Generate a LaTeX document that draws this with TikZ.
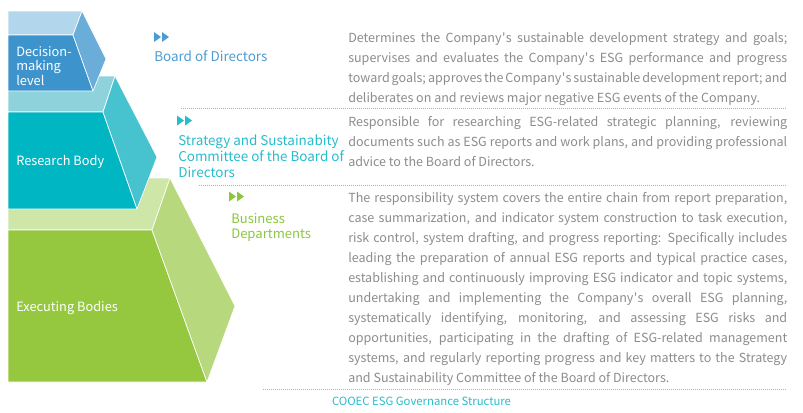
\documentclass[tikz,border=0pt]{standalone}
\usepackage{fontspec}
\setmainfont{Noto Sans CJK SC}[Ligatures=TeXOff]
\usetikzlibrary{positioning}
\definecolor{dectop}{HTML}{B2D6EC}
\definecolor{decfront}{HTML}{3D94CC}
\definecolor{decside}{HTML}{6BADD9}
\definecolor{restop}{HTML}{8ED3DC}
\definecolor{resfront}{HTML}{00B6C3}
\definecolor{resside}{HTML}{47C3CF}
\definecolor{exetop}{HTML}{CEE6A7}
\definecolor{exefront}{HTML}{96C83F}
\definecolor{exeside}{HTML}{B7D87C}
\definecolor{boardblue}{HTML}{4D9BD3}
\definecolor{committeeteal}{HTML}{28BCCB}
\definecolor{businessgreen}{HTML}{8CC63F}
\definecolor{bodygray}{HTML}{8C8C8C}
\definecolor{dotcyan}{HTML}{6CC9D5}
\newcommand\apos{\kern0.3pt'\kern0.3pt}
\tikzset{
  bodytext/.style={anchor=base west, inner sep=0pt, text width=329.25pt, align=justify, text=bodygray,
    font={\fontsize{9.4}{15}\selectfont\spaceskip=0.224em plus 0.4em minus 0.08em
      \hyphenpenalty=10000\exhyphenpenalty=10000\tolerance=9999}},
  sidelabel/.style={anchor=base west, inner sep=0pt, align=left},
  separator/.style={dotcyan, line width=0.75pt, dash pattern=on 0.7pt off 0.8pt}
}

\begin{document}
\begin{tikzpicture}[x=0.75pt, y=-0.75pt]
		\useasboundingbox (0,0) rectangle (803,412);
		% blocks, bottom one first
		\begin{scope}[every path/.style={draw=white, line width=0.5pt, line join=round}]
			\path[fill=exetop] (8,178) -- (170,178) -- (152,230) -- (8,230) -- cycle;
			\path[fill=exefront] (8,230) -- (152,230) -- (207,382) -- (8,382) -- cycle;
			\path[fill=exeside] (152,230) -- (170,178) -- (235,306) -- (207,382) -- cycle;
			\path[fill=restop] (8,76) -- (115,76) -- (103,112) -- (8,112) -- cycle;
			\path[fill=resfront] (8,112) -- (103,112) -- (137,209) -- (8,209) -- cycle;
			\path[fill=resside] (103,112) -- (115,76) -- (157,157) -- (137,209) -- cycle;
			\path[fill=dectop] (8,11) -- (82,11) -- (73,35) -- (8,35) -- cycle;
			\path[fill=decfront] (8,35) -- (73,35) -- (93,91) -- (8,91) -- cycle;
			\path[fill=decside] (73,35) -- (82,11) -- (106,59) -- (93,91) -- cycle;
		\end{scope}
		% multi-line labels sit on the baseline of their last line
		\begin{scope}[every node/.style={text=white, anchor=base west, inner sep=0pt, align=left,
				font=\fontsize{9.6}{10.6}\selectfont}]
			\node (decision) at (16,85) {Decision-\\making\\level};
			\node (research) at (16,165.7) {Research Body};
			\node (executing) at (16,311.7) {Executing Bodies};
		\end{scope}
		% double triangle markers
		\foreach \x/\y/\c in {154/37/boardblue, 177/120.5/committeeteal, 229/196.5/businessgreen} {
			\fill[\c] (\x,\y-5) -- ++(7,5) -- ++(-7,5) -- cycle;
			\fill[\c] (\x+8,\y-5) -- ++(7,5) -- ++(-7,5) -- cycle;
		}
		\node[sidelabel, text=boardblue, font=\fontsize{10.1}{12}\selectfont] (board) at (154,61.7) {Board of Directors};
		\node[sidelabel, text=committeeteal, font=\fontsize{10.1}{12}\selectfont] (committee) at (178,177.7)
			{Strategy and Sustainabity\\Committee of the Board of\\Directors};
		\node[sidelabel, text=businessgreen, font=\fontsize{9.8}{11.25}\selectfont] (business) at (231,238)
			{Business\\Departments};
		% duties
		\node[bodytext] (boardtext) at (348,42.7) {Determines the Company\apos s sustainable development strategy and goals;\linebreak
			supervises and evaluates the Company\apos s ESG performance and progress\linebreak
			toward goals; approves the Company\apos s sustainable development report; and\linebreak
			deliberates on and reviews major negative ESG events of the Company.};
		\node[bodytext] (committeetext) at (348,126) {Responsible for researching ESG-related strategic planning, reviewing\linebreak
			documents such as ESG reports and work plans, and providing professional\linebreak
			advice to the Board of Directors.};
		\node[bodytext] (businesstext) at (348,202.7) {The responsibility system covers the entire chain from report preparation,\linebreak
			case summarization, and indicator system construction to task execution,\linebreak
			risk control, system drafting, and progress reporting: Specifically includes\linebreak
			leading the preparation of annual ESG reports and typical practice cases,\linebreak
			establishing and continuously improving ESG indicator and topic systems,\linebreak
			undertaking and implementing the Company\apos s overall ESG planning,\linebreak
			systematically identifying, monitoring, and assessing ESG risks and\linebreak
			opportunities, participating in the drafting of ESG-related management\linebreak
			systems, and regularly reporting progress and key matters to the Strategy\linebreak
			and Sustainability Committee of the Board of Directors.};
		% separators
		\coordinate (sepa) at (181,108);
		\coordinate (sepb) at (199,185);
		\coordinate (sepc) at (263,389);
		\foreach \s in {sepa, sepb, sepc}
			\draw[separator] (\s) -- (\s -| 787,0);
		\node[text=committeeteal, font=\fontsize{8.5}{10}\selectfont, inner sep=0pt] (caption) at (421.5,401) {COOEC ESG Governance Structure};
	\end{tikzpicture}
\end{document}
